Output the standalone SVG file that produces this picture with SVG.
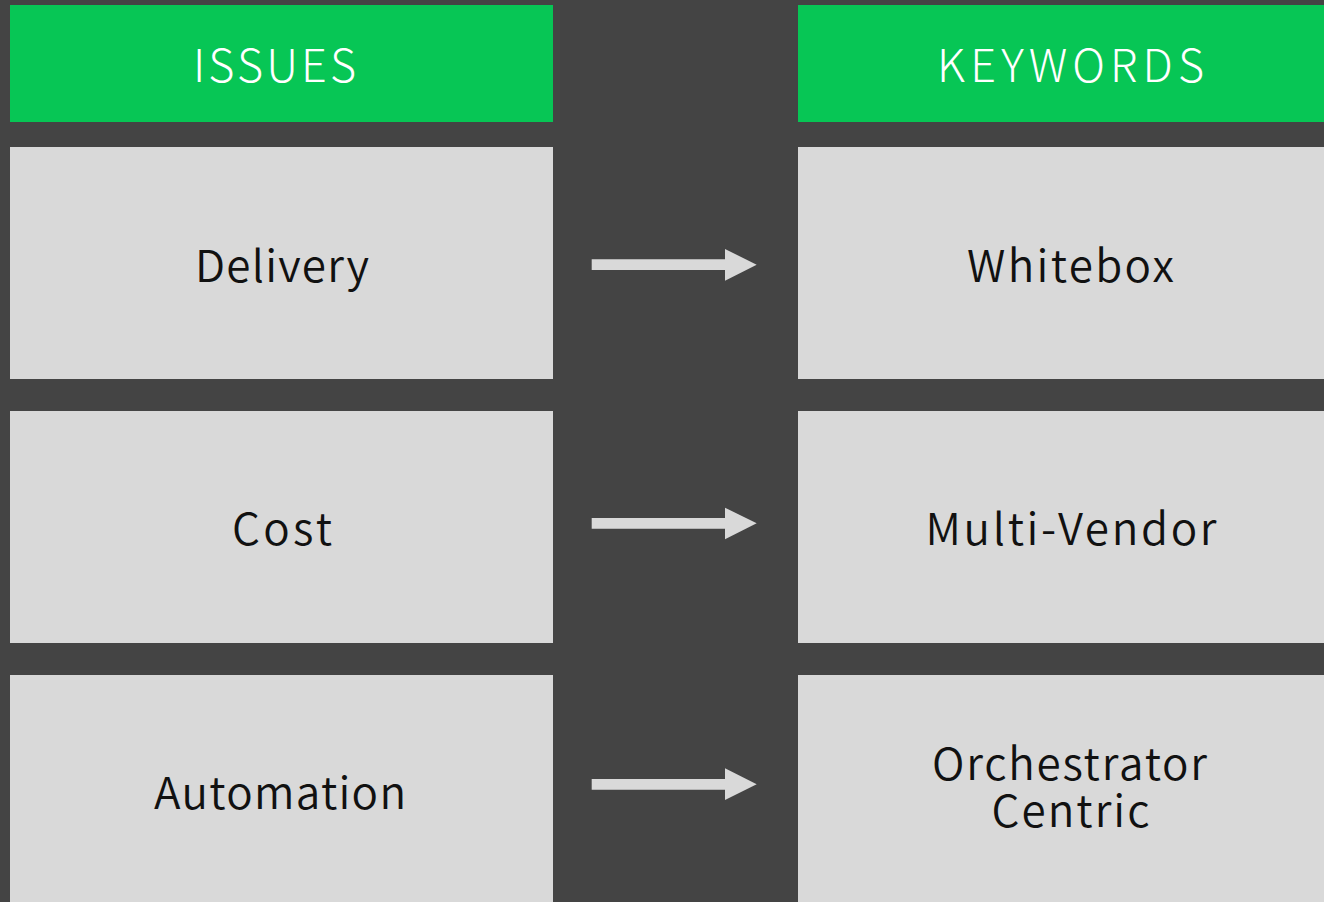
<svg xmlns="http://www.w3.org/2000/svg" width="1324" height="902" viewBox="0 0 1324 902">
<style>
.hdr{fill:#07C655}
.box{fill:#D9D9D9}
.ht{font-family:"Noto Sans CJK JP","Noto Sans",sans-serif;font-weight:300;font-size:45px;fill:#FFFFFF;text-anchor:middle}
.bt{font-family:"Noto Sans CJK JP","Noto Sans",sans-serif;font-weight:350;font-size:44px;fill:#111111;text-anchor:middle}
.arr{fill:#D9D9D9}
</style>
<rect x="0" y="0" width="1324" height="902" fill="#444444"/>
<g id="issues-header"><rect class="hdr" x="10" y="5" width="543" height="117"/><text class="ht" x="274.5" y="81.7" textLength="163" lengthAdjust="spacing">ISSUES</text></g>
<g id="keywords-header"><rect class="hdr" x="798" y="5" width="543" height="117"/><text class="ht" x="1070.5" y="81.7" textLength="267" lengthAdjust="spacing">KEYWORDS</text></g>
<g id="delivery"><rect class="box" x="10" y="147" width="543" height="232"/><text class="bt" x="282" y="281.7" textLength="174" lengthAdjust="spacing">Delivery</text></g>
<g id="cost"><rect class="box" x="10" y="411" width="543" height="232"/><text class="bt" x="282" y="545" textLength="100" lengthAdjust="spacing">Cost</text></g>
<g id="automation"><rect class="box" x="10" y="675" width="543" height="240"/><text class="bt" x="280" y="809.3" textLength="252" lengthAdjust="spacing">Automation</text></g>
<g id="whitebox"><rect class="box" x="798" y="147" width="543" height="232"/><text class="bt" x="1070.5" y="281.7" textLength="207" lengthAdjust="spacing">Whitebox</text></g>
<g id="multi-vendor"><rect class="box" x="798" y="411" width="543" height="232"/><text class="bt" x="1071" y="545" textLength="291" lengthAdjust="spacing">Multi-Vendor</text></g>
<g id="orchestrator-centric"><rect class="box" x="798" y="675" width="543" height="240"/><text class="bt" x="1069.5" y="780" textLength="275" lengthAdjust="spacing">Orchestrator</text><text class="bt" x="1070.5" y="826.7" textLength="158" lengthAdjust="spacing">Centric</text></g>
<g id="connectors">
<polygon class="arr" points="591.7,259.3 725,259.3 725,249 756.7,264.7 725,280.7 725,270 591.7,270"/>
<polygon class="arr" points="591.7,518 725,518 725,507.7 756.7,523.3 725,539.3 725,528.7 591.7,528.7"/>
<polygon class="arr" points="591.7,779 725,779 725,768.3 756.7,784.3 725,800 725,789.7 591.7,789.7"/>
</g>
</svg>
